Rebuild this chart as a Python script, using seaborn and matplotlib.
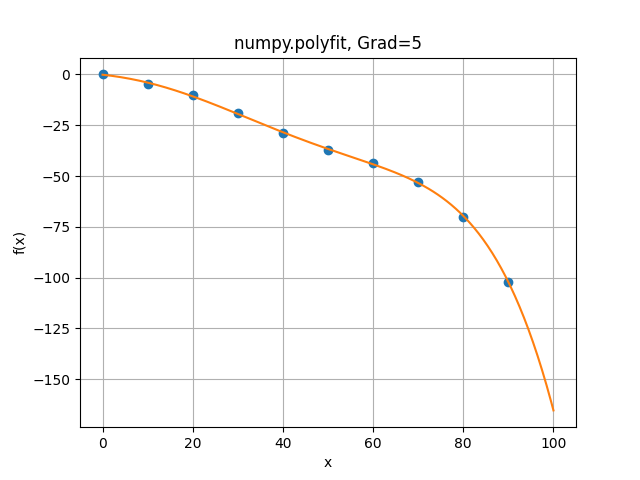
import numpy as np
import matplotlib
matplotlib.use("Agg")
import matplotlib.pyplot as plt
import seaborn as sns

x_data = [0, 10, 20, 30, 40, 50, 60, 70, 80, 90]
y_data = [0, -4.6, -10.3, -19.1, -28.9, -37.1, -43.8, -53.0, -70.1, -102.0]
degree = 5

coeffs = np.polyfit(x_data, y_data, degree)
x_fit = np.linspace(0, 100, 200)
y_fit = np.polyval(coeffs, x_fit)

fig, ax = plt.subplots(figsize=(6.4, 4.8), dpi=100)
sns.scatterplot(x=x_data, y=y_data, ax=ax, color="#1f77b4", s=36,
                edgecolor="#1f77b4", linewidth=1.0, zorder=2)
sns.lineplot(x=x_fit, y=y_fit, ax=ax, color="#ff7f0e", linewidth=1.5, zorder=3)
ax.set_title("numpy.polyfit, Grad=5")
ax.set_xlabel("x")
ax.set_ylabel("f(x)")
ax.grid(True)
fig.savefig("out.png", dpi=100)
